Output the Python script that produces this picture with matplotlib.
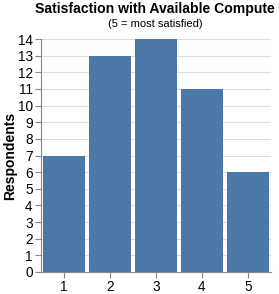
import matplotlib.pyplot as plt

plt.rcParams['font.family'] = ['Liberation Sans', 'DejaVu Sans']

# Data
ratings = ['1', '2', '3', '4', '5']
respondents = [7, 13, 14, 11, 6]

fig = plt.figure(figsize=(2.79, 2.94), dpi=100)
ax = fig.add_axes([0.147, 0.075, 0.824, 0.792])

ax.bar(range(len(ratings)), respondents, width=0.9, color='#4c78a8', zorder=2)
ax.set_xticks(range(len(ratings)))
ax.set_xticklabels(ratings)
ax.set_xlim(-0.5, len(ratings) - 0.5)
ax.set_ylim(0, 14)
ax.set_yticks(range(0, 15))
ax.grid(axis='y', color='#dddddd', linewidth=0.8, zorder=0)
ax.set_axisbelow(True)

for s in ['top', 'right']:
    ax.spines[s].set_visible(False)
for s in ['left', 'bottom']:
    ax.spines[s].set_color('#888888')
    ax.spines[s].set_linewidth(0.8)
ax.tick_params(colors='#888888', length=4, width=0.8, labelsize=9.8, labelcolor='black', pad=2)

ax.set_ylabel('Respondents', fontsize=10, fontweight='bold', labelpad=0.5)

fig.text(0.555, 0.968, 'Satisfaction with Available Compute', ha='center', va='center',
         fontsize=10.1, fontweight='bold')
fig.text(0.555, 0.92, '(5 = most satisfied)', ha='center', va='center', fontsize=8)

fig.savefig('out.png', dpi=100)
